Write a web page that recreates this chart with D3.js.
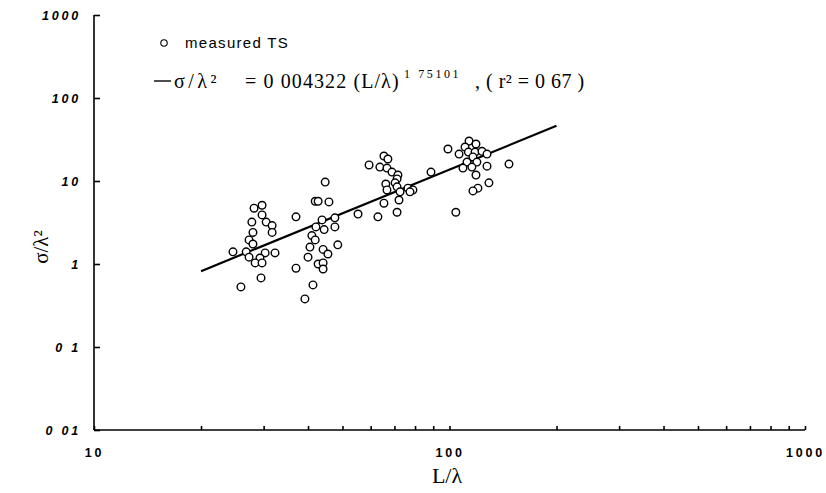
<!DOCTYPE html>
<html>
<head>
<meta charset="utf-8">
<script src="https://cdn.jsdelivr.net/npm/d3@7"></script>
<style>
  body { margin: 0; background: #fff; }
  .tick text { font-family: "Liberation Sans", Arial, sans-serif; font-weight: bold; font-size: 12.5px; letter-spacing: 2.8px; fill: #000; }
  .yaxis .tick text { font-style: italic; }
  .domain, .tick line { stroke: #000; stroke-width: 1.6px; }
  .serif { font-family: "Liberation Serif", "Times New Roman", serif; fill: #000; }
</style>
</head>
<body>
<div id="plot"></div>
<script>

// measured TS points (L/lambda, sigma/lambda^2)
var lengthRatio = [
  29.7, 28.2, 29.7, 27.8, 30.5, 31.7, 31.7, 28.0, 27.3, 28.0, 24.6, 26.8, 30.3, 32.3, 27.3, 29.3, 28.4, 29.7, 29.5, 25.9,
  37.0, 37.0,
  44.7, 41.9, 42.7, 45.8, 43.8, 47.6, 42.1, 44.4, 47.6, 41.0, 41.9, 40.5, 44.1, 45.5, 48.5, 40.0, 42.7, 44.1, 44.1, 41.3, 39.2, 55.3, 62.9,
  65.4, 67.1, 59.4, 63.7, 66.7, 68.9, 71.6, 71.2, 66.2, 70.3, 66.7, 71.2, 76.4, 78.9, 72.6, 77.4, 72.1, 65.4, 71.2, 88.7,
  113.5, 118.7, 110.6, 99.0, 106.4, 113.0, 118.0, 123.4, 127.5, 116.4, 112.0, 119.4, 109.1, 115.6, 127.5, 147.0, 118.7, 129.1, 120.2, 116.4, 104.2
];
var backscatter = [
  5.1, 4.7, 3.9, 3.2, 3.2, 2.9, 2.4, 2.4, 1.95, 1.74, 1.4, 1.4, 1.36, 1.36, 1.21, 1.18, 1.03, 1.03, 0.68, 0.53,
  3.7, 0.89,
  9.7, 5.7, 5.7, 5.6, 3.4, 3.6, 2.8, 2.6, 2.8, 2.2, 1.95, 1.6, 1.5, 1.32, 1.7, 1.21, 1.0, 1.03, 0.87, 0.56, 0.38, 4.0, 3.7,
  20.0, 18.4, 15.6, 14.7, 14.3, 12.8, 11.8, 10.6, 9.2, 9.5, 7.8, 8.5, 8.2, 7.8, 7.4, 7.4, 5.9, 5.4, 4.2, 12.8,
  30.3, 27.9, 25.7, 24.3, 21.1, 22.3, 22.3, 22.8, 21.1, 19.5, 16.9, 16.9, 14.3, 14.7, 15.1, 16.0, 11.8, 9.5, 8.2, 7.6, 4.2
];

// regression from the legend: sigma/lambda^2 = a (L/lambda)^b
var fitCoef = 0.004322, fitExp = 1.75101;
var fitRange = [20, 200];

var xTicks = [10, 20, 30, 40, 50, 60, 70, 80, 90, 100, 200, 300, 400, 500, 600, 700, 800, 900, 1000];
var xLabels = {10: "10", 100: "100", 1000: "1000"};
var yTicks = [0.01, 0.1, 1, 10, 100, 1000];
var yLabels = ["0 01", "0 1", "1", "10", "100", "1000"];

var width = 826, height = 493;

var svg = d3.select("#plot")
  .append("svg")
    .attr("width", width)
    .attr("height", height);

// scales
var xscale = d3.scaleLog().domain([10, 1000]).range([94, 805]);
var yscale = d3.scaleLog().domain([0.01, 1000]).range([430, 15]);

// axes, ticks pointing inside
var xAxis = d3.axisBottom(xscale)
  .tickValues(xTicks)
  .tickSize(-4)
  .tickPadding(18)
  .tickFormat(function(d) { return xLabels[d] || ""; });

svg.append("g")
  .attr("class", "xaxis")
  .attr("transform", "translate(0,430)")
  .call(xAxis);

var yAxis = d3.axisLeft(yscale)
  .tickValues(yTicks)
  .tickSize(-6)
  .tickPadding(13)
  .tickFormat(function(d, i) { return yLabels[i]; });

svg.append("g")
  .attr("class", "yaxis")
  .attr("transform", "translate(94,0)")
  .call(yAxis);

svg.selectAll(".domain").attr("d", function() {
  return d3.select(this.parentNode).classed("xaxis") ? "M94,0H805" : "M0,15V430";
});

// fitted line
var fitLine = d3.line()
  .x(function(d) { return xscale(d); })
  .y(function(d) { return yscale(fitCoef * Math.pow(d, fitExp)); });

svg.append("path")
  .datum(fitRange)
  .attr("fill", "none")
  .attr("stroke", "#000")
  .attr("stroke-width", 2.2)
  .attr("d", fitLine);

// measured points
svg.append("g")
  .selectAll("circle")
  .data(d3.range(lengthRatio.length))
  .join("circle")
    .attr("cx", function(i) { return xscale(lengthRatio[i]); })
    .attr("cy", function(i) { return yscale(backscatter[i]); })
    .attr("r", 3.8)
    .attr("fill", "#fff")
    .attr("stroke", "#000")
    .attr("stroke-width", 1.4);

// legend
svg.append("circle")
  .attr("cx", 164).attr("cy", 43).attr("r", 3.2)
  .attr("fill", "#fff").attr("stroke", "#000").attr("stroke-width", 1.1);

svg.append("text")
  .attr("x", 185).attr("y", 48)
  .attr("font-family", "Liberation Sans, Arial, sans-serif")
  .attr("font-size", 15)
  .attr("letter-spacing", "1.3px")
  .text("measured TS");

svg.append("line")
  .attr("x1", 154).attr("x2", 171).attr("y1", 81).attr("y2", 81)
  .attr("stroke", "#000").attr("stroke-width", 1.4);

var eq = svg.append("text")
  .attr("class", "serif")
  .attr("y", 88)
  .attr("font-size", 20);
eq.append("tspan").attr("x", 174).attr("letter-spacing", "3.5px").text("σ/λ²");
eq.append("tspan").attr("x", 245).attr("letter-spacing", "1.1px").text("= 0 004322 (L/λ)");
eq.append("tspan").attr("x", 404).attr("dy", -10).attr("font-size", 12).attr("letter-spacing", "2.6px").text("1 75101");
eq.append("tspan").attr("x", 475).attr("dy", 10).attr("letter-spacing", "0.5px").text(", ( r² = 0 67 )");

// axis titles
svg.append("text")
  .attr("class", "serif")
  .attr("x", 447).attr("y", 483)
  .attr("text-anchor", "middle")
  .attr("font-size", 22)
  .text("L/λ");

svg.append("text")
  .attr("class", "serif")
  .attr("transform", "translate(48,247) rotate(-90)")
  .attr("text-anchor", "middle")
  .attr("font-size", 21)
  .text("σ/λ²");

</script>
</body>
</html>
